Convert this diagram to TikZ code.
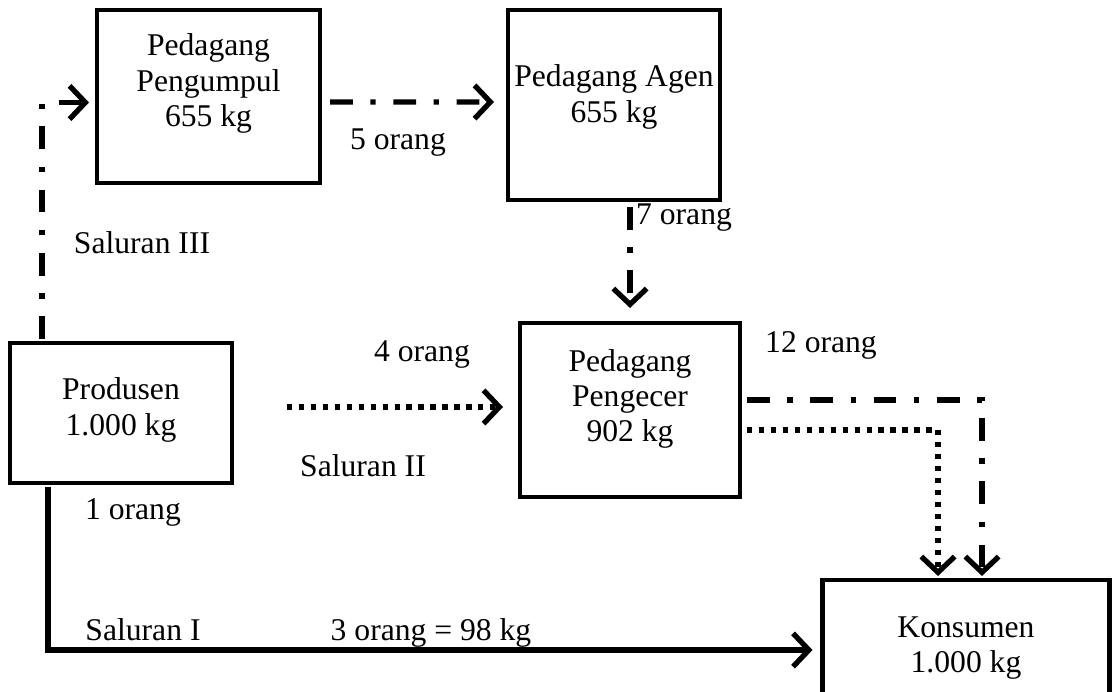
\documentclass[tikz,border=0pt]{standalone}
\usepackage{fontspec}
\setmainfont{Liberation Serif}
\usepackage{tikz}
\usetikzlibrary{calc}
\usetikzlibrary{arrows.meta}
\def\boxthickness{2.3pt}
\def\linethickness{3pt}
\tikzset{box/.style={draw, line width=\boxthickness, align=center, inner sep=0pt}}
\tikzset{tag/.style={inner sep=0pt, align=center}}
\tikzset{flow/.style={line width=\linethickness, line cap=butt,
    -{Straight Barb[length=9pt, width=19pt, line width=\linethickness]}}}
\tikzset{dashdot flow/.style={flow, dash pattern=on 13pt off 10pt on 3pt off 10pt}}
\tikzset{dotted flow/.style={flow, dash pattern=on 3pt off 3.8pt}}

\begin{document}
\begin{tikzpicture}[x=0.02cm, y=-0.02cm, font=\fontsize{18}{20}\selectfont]

\useasboundingbox (0, 0) rectangle (1118, 692);
\clip (0, 0) rectangle (1118, 692);

\node[box, minimum width=223*0.02cm, minimum height=173*0.02cm,
  label={[tag, yshift=13*0.02cm]center:Pedagang\\Pengumpul\\655 kg}] (pengumpul) at (208.5, 96.5) {};
\node[box, minimum width=212*0.02cm, minimum height=190*0.02cm,
  label={[tag, yshift=8*0.02cm]center:Pedagang Agen\\655 kg}] (agen) at (614, 105) {};
\node[box, minimum width=222*0.02cm, minimum height=140*0.02cm,
  label={[tag, yshift=3*0.02cm]center:Produsen\\1.000 kg}] (produsen) at (121, 413) {};
\node[box, minimum width=220*0.02cm, minimum height=174*0.02cm,
  label={[tag, yshift=11*0.02cm]center:Pedagang\\Pengecer\\902 kg}] (pengecer) at (630, 410) {};
\node[box, minimum width=287*0.02cm, minimum height=140*0.02cm,
  label={[tag, yshift=2*0.02cm]center:Konsumen\\1.000 kg}] (konsumen) at (966, 650) {};

\node[tag] (lima) at (398, 143) {5 orang};
\node[tag] (tujuh) at (684, 218) {7 orang};
\node[tag] (saluran3) at (142, 243) {Saluran III};
\node[tag] (empat) at (422, 355) {4 orang};
\node[tag] (duabelas) at (821, 345) {12 orang};
\node[tag] (saluran2) at (363, 466) {Saluran II};
\node[tag] (satu) at (133, 512) {1 orang};
\node[tag] (saluran1) at (143, 630) {Saluran I};
\node[tag] (tiga) at (431, 633) {3 orang = 98 kg};

\draw[dashdot flow, shorten >=0.12cm] ($(produsen.north west)+(34, -2)$) |- ($(pengumpul.west)+(0, 6)$);
\draw[dashdot flow, shorten >=0.24cm] ($(pengumpul.east)+(8, 5.5)$) -- ($(agen.west)+(0, -3)$);
\draw[dashdot flow, shorten <=0.1cm, shorten >=0.26cm] (agen.south -| pengecer.north) -- (pengecer.north);
\draw[dotted flow, shorten >=0.3cm] ($(produsen.east)+(53, -6)$) -- ($(pengecer.west)+(0, -3)$);
\draw[dashdot flow, shorten >=0.04cm] ($(pengecer.east)+(5, -10)$) -| ($(konsumen.north)+(16, 0)$);
\draw[dotted flow, shorten >=0.04cm] ($(pengecer.east)+(5, 20)$) -| ($(konsumen.north)+(-28, 0)$);
\draw[flow, shorten >=0.16cm] ($(produsen.south west)+(40, 2)$) |- (konsumen.west);

\end{tikzpicture}
\end{document}
